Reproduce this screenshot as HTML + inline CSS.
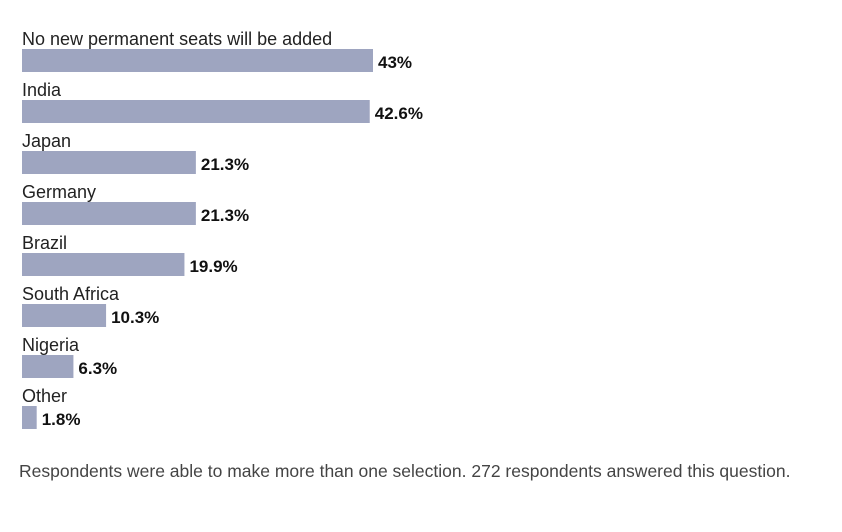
<!DOCTYPE html>
<html><head><meta charset="utf-8"><style>
body{margin:0;background:#fff;width:842px;height:532px;overflow:hidden;font-family:"Liberation Sans",sans-serif}
#foot{position:absolute;left:19px;top:459px;width:800px;font-size:17.5px;line-height:24px;color:#444}
</style></head><body>
<svg id="chart" width="842" height="450" style="position:absolute;left:0;top:0"></svg>
<div id="foot">Respondents were able to make more than one selection. 272 respondents answered this question.</div>
<script>
const categories=["No new permanent seats will be added","India","Japan","Germany","Brazil","South Africa","Nigeria","Other"];
const values=[43,42.6,21.3,21.3,19.9,10.3,6.3,1.8];
const valueLabels=["43%","42.6%","21.3%","21.3%","19.9%","10.3%","6.3%","1.8%"];
const svg=document.getElementById('chart');
const NS='http://www.w3.org/2000/svg';
const x0=22,scale=(373-22)/43;
const xs=v=>v*scale;
const rowY=i=>49+i*51;
categories.forEach((c,i)=>{
  const y=rowY(i);
  const t=document.createElementNS(NS,'text');
  
  
  t.setAttribute('x',x0);t.setAttribute('y',y-4);
  t.setAttribute('font-size','18');t.setAttribute('fill','#222');
  t.textContent=c;svg.appendChild(t);
  const r=document.createElementNS(NS,'rect');
  
  
  r.setAttribute('x',x0);r.setAttribute('y',y);
  r.setAttribute('width',xs(values[i]));r.setAttribute('height',23);
  r.setAttribute('fill','#9ea5c0');svg.appendChild(r);
  const v=document.createElementNS(NS,'text');
  
  
  v.setAttribute('x',x0+xs(values[i])+5);v.setAttribute('y',y+19);
  v.setAttribute('font-size','17');v.setAttribute('font-weight','bold');v.setAttribute('fill','#111');
  v.textContent=valueLabels[i];svg.appendChild(v);
});
</script>
</body></html>
